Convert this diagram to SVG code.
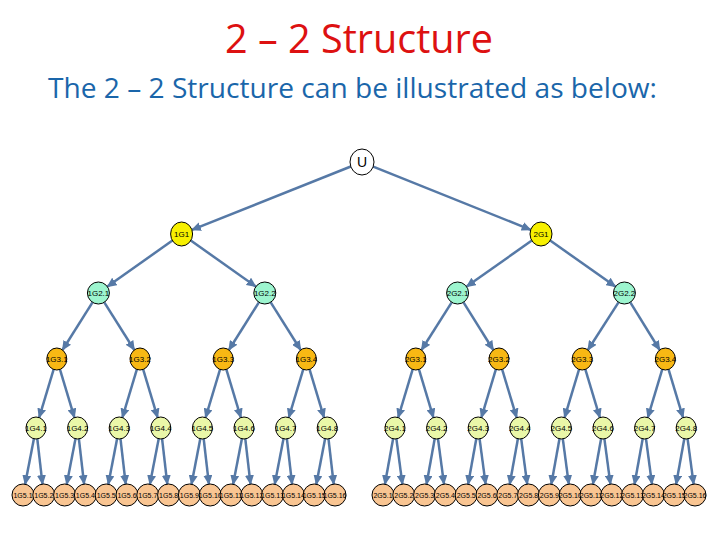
<svg xmlns="http://www.w3.org/2000/svg" width="720" height="540" viewBox="0 0 720 540">
<style>
.title{font-family:"Open Sans","Liberation Sans",sans-serif;font-size:40px;fill:#DD1111}
.sub{font-family:"Open Sans","Liberation Sans",sans-serif;font-size:27px;fill:#1A66AA}
.n ellipse{stroke:#000;stroke-width:1}
.n text{font-family:"Liberation Sans",Arial,sans-serif;font-size:8px;fill:#000;text-anchor:middle;dominant-baseline:central}
.l0 ellipse{fill:#fff}
.l0 text{font-size:14px}
.l1 ellipse{fill:#F7F000}
.l2 ellipse{fill:#9DF5CF}
.l3 ellipse{fill:#F8B814}
.l4 ellipse{fill:#EAF7A8}
.l5 ellipse{fill:#F9C592}
.l5 text{font-size:7px}
#edges line{stroke:#5679A6;stroke-width:2.5;marker-end:url(#ah)}
</style>
<defs>
<marker id="ah" markerUnits="userSpaceOnUse" markerWidth="10" markerHeight="9" refX="9" refY="4.5" orient="auto">
<path d="M0,0 L10,4.5 L0,9 z" fill="#5679A6"/>
</marker>
</defs>
<text class="title" x="359" y="53" text-anchor="middle" textLength="268" lengthAdjust="spacingAndGlyphs">2 – 2  Structure</text>
<text class="sub" x="48" y="98" textLength="609" lengthAdjust="spacingAndGlyphs">The 2 – 2 Structure can be illustrated as below:</text>
<g id="edges">
<line x1="350.8" y1="166.5" x2="191.9" y2="229.9"/>
<line x1="373.2" y1="166.6" x2="530.7" y2="229.8"/>
<line x1="172.4" y1="240.5" x2="107.4" y2="286.6"/>
<line x1="190.8" y1="240.5" x2="255.8" y2="286.6"/>
<line x1="531.8" y1="240.5" x2="466.6" y2="286.6"/>
<line x1="550.2" y1="240.5" x2="615.4" y2="286.6"/>
<line x1="92.5" y1="302.3" x2="62.5" y2="350"/>
<line x1="104.3" y1="302.3" x2="134.3" y2="350"/>
<line x1="258.9" y1="302.3" x2="228.9" y2="350"/>
<line x1="270.7" y1="302.3" x2="300.7" y2="350"/>
<line x1="451.7" y1="302.3" x2="421.5" y2="350"/>
<line x1="463.5" y1="302.3" x2="493.3" y2="350"/>
<line x1="618.5" y1="302.3" x2="587.9" y2="350"/>
<line x1="630.3" y1="302.3" x2="659.7" y2="350"/>
<line x1="53.65" y1="369.4" x2="39.15" y2="417.6"/>
<line x1="59.95" y1="369.4" x2="74.45" y2="417.6"/>
<line x1="136.85" y1="369.4" x2="122.35" y2="417.6"/>
<line x1="143.15" y1="369.4" x2="157.65" y2="417.6"/>
<line x1="220.05" y1="369.4" x2="205.55" y2="417.6"/>
<line x1="226.35" y1="369.4" x2="240.85" y2="417.6"/>
<line x1="303.25" y1="369.4" x2="288.75" y2="417.6"/>
<line x1="309.55" y1="369.4" x2="324.05" y2="417.6"/>
<line x1="412.65" y1="369.4" x2="398.15" y2="417.6"/>
<line x1="418.95" y1="369.4" x2="433.45" y2="417.6"/>
<line x1="495.85" y1="369.4" x2="481.35" y2="417.6"/>
<line x1="502.15" y1="369.4" x2="516.65" y2="417.6"/>
<line x1="579.05" y1="369.4" x2="564.55" y2="417.6"/>
<line x1="585.35" y1="369.4" x2="599.85" y2="417.6"/>
<line x1="662.25" y1="369.4" x2="647.75" y2="417.6"/>
<line x1="668.55" y1="369.4" x2="683.05" y2="417.6"/>
<line x1="33.9" y1="438.8" x2="25.1" y2="484.2"/>
<line x1="37.3" y1="438.9" x2="42.5" y2="484.1"/>
<line x1="75.5" y1="438.8" x2="66.7" y2="484.2"/>
<line x1="78.9" y1="438.9" x2="84.1" y2="484.1"/>
<line x1="117.1" y1="438.8" x2="108.3" y2="484.2"/>
<line x1="120.5" y1="438.9" x2="125.7" y2="484.1"/>
<line x1="158.7" y1="438.8" x2="149.9" y2="484.2"/>
<line x1="162.1" y1="438.9" x2="167.3" y2="484.1"/>
<line x1="200.3" y1="438.8" x2="191.5" y2="484.2"/>
<line x1="203.7" y1="438.9" x2="208.9" y2="484.1"/>
<line x1="241.9" y1="438.8" x2="233.1" y2="484.2"/>
<line x1="245.3" y1="438.9" x2="250.5" y2="484.1"/>
<line x1="283.5" y1="438.8" x2="274.7" y2="484.2"/>
<line x1="286.9" y1="438.9" x2="292.1" y2="484.1"/>
<line x1="325.1" y1="438.8" x2="316.3" y2="484.2"/>
<line x1="328.5" y1="438.9" x2="333.7" y2="484.1"/>
<line x1="393.1" y1="438.8" x2="384.9" y2="484.2"/>
<line x1="396.4" y1="438.9" x2="402.4" y2="484.1"/>
<line x1="434.7" y1="438.8" x2="426.5" y2="484.2"/>
<line x1="438" y1="438.9" x2="444" y2="484.1"/>
<line x1="476.3" y1="438.8" x2="468.1" y2="484.2"/>
<line x1="479.6" y1="438.9" x2="485.6" y2="484.1"/>
<line x1="517.9" y1="438.8" x2="509.7" y2="484.2"/>
<line x1="521.2" y1="438.9" x2="527.2" y2="484.1"/>
<line x1="559.5" y1="438.8" x2="551.3" y2="484.2"/>
<line x1="562.8" y1="438.9" x2="568.8" y2="484.1"/>
<line x1="601.1" y1="438.8" x2="592.9" y2="484.2"/>
<line x1="604.4" y1="438.9" x2="610.4" y2="484.1"/>
<line x1="642.7" y1="438.8" x2="634.5" y2="484.2"/>
<line x1="646" y1="438.9" x2="652" y2="484.1"/>
<line x1="684.3" y1="438.8" x2="676.1" y2="484.2"/>
<line x1="687.6" y1="438.9" x2="693.6" y2="484.1"/>
</g>
<g id="U" class="n l0"><ellipse cx="362" cy="162" rx="12" ry="13"/><text x="362" y="162">U</text></g>
<g id="n1G1" class="n l1"><ellipse cx="181.6" cy="234" rx="11" ry="12"/><text x="181.6" y="234">1G1</text></g>
<g id="n2G1" class="n l1"><ellipse cx="541" cy="234" rx="11" ry="12"/><text x="541" y="234">2G1</text></g>
<g id="n1G2.1" class="n l2"><ellipse cx="98.4" cy="293" rx="11" ry="11"/><text x="98.4" y="293">1G2.1</text></g>
<g id="n1G2.2" class="n l2"><ellipse cx="264.8" cy="293" rx="11" ry="11"/><text x="264.8" y="293">1G2.2</text></g>
<g id="n2G2.1" class="n l2"><ellipse cx="457.6" cy="293" rx="11" ry="11"/><text x="457.6" y="293">2G2.1</text></g>
<g id="n2G2.2" class="n l2"><ellipse cx="624.4" cy="293" rx="11" ry="11"/><text x="624.4" y="293">2G2.2</text></g>
<g id="n1G3.1" class="n l3"><ellipse cx="56.8" cy="359" rx="10" ry="11"/><text x="56.8" y="359">1G3.1</text></g>
<g id="n1G3.2" class="n l3"><ellipse cx="140" cy="359" rx="10" ry="11"/><text x="140" y="359">1G3.2</text></g>
<g id="n1G3.3" class="n l3"><ellipse cx="223.2" cy="359" rx="10" ry="11"/><text x="223.2" y="359">1G3.3</text></g>
<g id="n1G3.4" class="n l3"><ellipse cx="306.4" cy="359" rx="10" ry="11"/><text x="306.4" y="359">1G3.4</text></g>
<g id="n2G3.1" class="n l3"><ellipse cx="415.8" cy="359" rx="10" ry="11"/><text x="415.8" y="359">2G3.1</text></g>
<g id="n2G3.2" class="n l3"><ellipse cx="499" cy="359" rx="10" ry="11"/><text x="499" y="359">2G3.2</text></g>
<g id="n2G3.3" class="n l3"><ellipse cx="582.2" cy="359" rx="10" ry="11"/><text x="582.2" y="359">2G3.3</text></g>
<g id="n2G3.4" class="n l3"><ellipse cx="665.4" cy="359" rx="10" ry="11"/><text x="665.4" y="359">2G3.4</text></g>
<g id="n1G4.1" class="n l4"><ellipse cx="36" cy="428" rx="10" ry="11"/><text x="36" y="428">1G4.1</text></g>
<g id="n1G4.2" class="n l4"><ellipse cx="77.6" cy="428" rx="10" ry="11"/><text x="77.6" y="428">1G4.2</text></g>
<g id="n1G4.3" class="n l4"><ellipse cx="119.2" cy="428" rx="10" ry="11"/><text x="119.2" y="428">1G4.3</text></g>
<g id="n1G4.4" class="n l4"><ellipse cx="160.8" cy="428" rx="10" ry="11"/><text x="160.8" y="428">1G4.4</text></g>
<g id="n1G4.5" class="n l4"><ellipse cx="202.4" cy="428" rx="10" ry="11"/><text x="202.4" y="428">1G4.5</text></g>
<g id="n1G4.6" class="n l4"><ellipse cx="244" cy="428" rx="10" ry="11"/><text x="244" y="428">1G4.6</text></g>
<g id="n1G4.7" class="n l4"><ellipse cx="285.6" cy="428" rx="10" ry="11"/><text x="285.6" y="428">1G4.7</text></g>
<g id="n1G4.8" class="n l4"><ellipse cx="327.2" cy="428" rx="10" ry="11"/><text x="327.2" y="428">1G4.8</text></g>
<g id="n2G4.1" class="n l4"><ellipse cx="395" cy="428" rx="10" ry="11"/><text x="395" y="428">2G4.1</text></g>
<g id="n2G4.2" class="n l4"><ellipse cx="436.6" cy="428" rx="10" ry="11"/><text x="436.6" y="428">2G4.2</text></g>
<g id="n2G4.3" class="n l4"><ellipse cx="478.2" cy="428" rx="10" ry="11"/><text x="478.2" y="428">2G4.3</text></g>
<g id="n2G4.4" class="n l4"><ellipse cx="519.8" cy="428" rx="10" ry="11"/><text x="519.8" y="428">2G4.4</text></g>
<g id="n2G4.5" class="n l4"><ellipse cx="561.4" cy="428" rx="10" ry="11"/><text x="561.4" y="428">2G4.5</text></g>
<g id="n2G4.6" class="n l4"><ellipse cx="603" cy="428" rx="10" ry="11"/><text x="603" y="428">2G4.6</text></g>
<g id="n2G4.7" class="n l4"><ellipse cx="644.6" cy="428" rx="10" ry="11"/><text x="644.6" y="428">2G4.7</text></g>
<g id="n2G4.8" class="n l4"><ellipse cx="686.2" cy="428" rx="10" ry="11"/><text x="686.2" y="428">2G4.8</text></g>
<g id="n1G5.1" class="n l5"><ellipse cx="23" cy="495" rx="11" ry="11"/><text x="23" y="495">1G5.1</text></g>
<g id="n1G5.2" class="n l5"><ellipse cx="43.8" cy="495" rx="11" ry="11"/><text x="43.8" y="495">1G5.2</text></g>
<g id="n1G5.3" class="n l5"><ellipse cx="64.6" cy="495" rx="11" ry="11"/><text x="64.6" y="495">1G5.3</text></g>
<g id="n1G5.4" class="n l5"><ellipse cx="85.4" cy="495" rx="11" ry="11"/><text x="85.4" y="495">1G5.4</text></g>
<g id="n1G5.5" class="n l5"><ellipse cx="106.2" cy="495" rx="11" ry="11"/><text x="106.2" y="495">1G5.5</text></g>
<g id="n1G5.6" class="n l5"><ellipse cx="127" cy="495" rx="11" ry="11"/><text x="127" y="495">1G5.6</text></g>
<g id="n1G5.7" class="n l5"><ellipse cx="147.8" cy="495" rx="11" ry="11"/><text x="147.8" y="495">1G5.7</text></g>
<g id="n1G5.8" class="n l5"><ellipse cx="168.6" cy="495" rx="11" ry="11"/><text x="168.6" y="495">1G5.8</text></g>
<g id="n1G5.9" class="n l5"><ellipse cx="189.4" cy="495" rx="11" ry="11"/><text x="189.4" y="495">1G5.9</text></g>
<g id="n1G5.10" class="n l5"><ellipse cx="210.2" cy="495" rx="11" ry="11"/><text x="210.2" y="495">1G5.10</text></g>
<g id="n1G5.11" class="n l5"><ellipse cx="231" cy="495" rx="11" ry="11"/><text x="231" y="495">1G5.11</text></g>
<g id="n1G5.12" class="n l5"><ellipse cx="251.8" cy="495" rx="11" ry="11"/><text x="251.8" y="495">1G5.12</text></g>
<g id="n1G5.13" class="n l5"><ellipse cx="272.6" cy="495" rx="11" ry="11"/><text x="272.6" y="495">1G5.13</text></g>
<g id="n1G5.14" class="n l5"><ellipse cx="293.4" cy="495" rx="11" ry="11"/><text x="293.4" y="495">1G5.14</text></g>
<g id="n1G5.15" class="n l5"><ellipse cx="314.2" cy="495" rx="11" ry="11"/><text x="314.2" y="495">1G5.15</text></g>
<g id="n1G5.16" class="n l5"><ellipse cx="335" cy="495" rx="11" ry="11"/><text x="335" y="495">1G5.16</text></g>
<g id="n2G5.1" class="n l5"><ellipse cx="383" cy="495" rx="11" ry="11"/><text x="383" y="495">2G5.1</text></g>
<g id="n2G5.2" class="n l5"><ellipse cx="403.8" cy="495" rx="11" ry="11"/><text x="403.8" y="495">2G5.2</text></g>
<g id="n2G5.3" class="n l5"><ellipse cx="424.6" cy="495" rx="11" ry="11"/><text x="424.6" y="495">2G5.3</text></g>
<g id="n2G5.4" class="n l5"><ellipse cx="445.4" cy="495" rx="11" ry="11"/><text x="445.4" y="495">2G5.4</text></g>
<g id="n2G5.5" class="n l5"><ellipse cx="466.2" cy="495" rx="11" ry="11"/><text x="466.2" y="495">2G5.5</text></g>
<g id="n2G5.6" class="n l5"><ellipse cx="487" cy="495" rx="11" ry="11"/><text x="487" y="495">2G5.6</text></g>
<g id="n2G5.7" class="n l5"><ellipse cx="507.8" cy="495" rx="11" ry="11"/><text x="507.8" y="495">2G5.7</text></g>
<g id="n2G5.8" class="n l5"><ellipse cx="528.6" cy="495" rx="11" ry="11"/><text x="528.6" y="495">2G5.8</text></g>
<g id="n2G5.9" class="n l5"><ellipse cx="549.4" cy="495" rx="11" ry="11"/><text x="549.4" y="495">2G5.9</text></g>
<g id="n2G5.10" class="n l5"><ellipse cx="570.2" cy="495" rx="11" ry="11"/><text x="570.2" y="495">2G5.10</text></g>
<g id="n2G5.11" class="n l5"><ellipse cx="591" cy="495" rx="11" ry="11"/><text x="591" y="495">2G5.11</text></g>
<g id="n2G5.12" class="n l5"><ellipse cx="611.8" cy="495" rx="11" ry="11"/><text x="611.8" y="495">2G5.12</text></g>
<g id="n2G5.13" class="n l5"><ellipse cx="632.6" cy="495" rx="11" ry="11"/><text x="632.6" y="495">2G5.13</text></g>
<g id="n2G5.14" class="n l5"><ellipse cx="653.4" cy="495" rx="11" ry="11"/><text x="653.4" y="495">2G5.14</text></g>
<g id="n2G5.15" class="n l5"><ellipse cx="674.2" cy="495" rx="11" ry="11"/><text x="674.2" y="495">2G5.15</text></g>
<g id="n2G5.16" class="n l5"><ellipse cx="695" cy="495" rx="11" ry="11"/><text x="695" y="495">2G5.16</text></g>
</svg>
